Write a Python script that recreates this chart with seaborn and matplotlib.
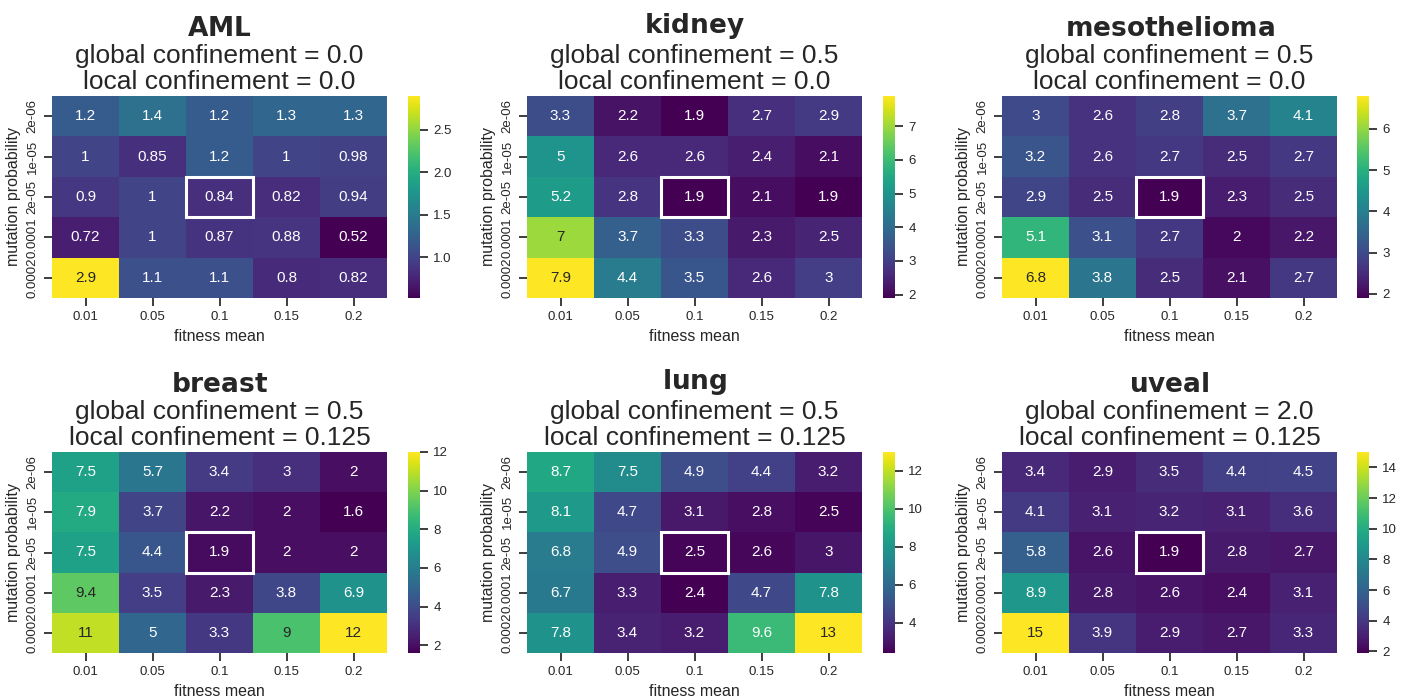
import numpy as np
import pandas as pd
import seaborn as sns
import matplotlib.pyplot as plt
from matplotlib.patches import Rectangle

fitness_mean = ["0.01", "0.05", "0.1", "0.15", "0.2"]
mutation_prob = ["2e-06", "1e-05", "2e-05", "0.0001", "0.0002"]

names = ["AML", "kidney", "mesothelioma", "breast", "lung", "uveal"]
global_conf = ["0.0", "0.5", "0.5", "0.5", "0.5", "2.0"]
local_conf = ["0.0", "0.0", "0.0", "0.125", "0.125", "0.125"]

aml = [[1.2, 1.4, 1.2, 1.3, 1.3],
       [1.0, 0.85, 1.2, 1.0, 0.98],
       [0.9, 1.0, 0.84, 0.82, 0.94],
       [0.72, 1.0, 0.87, 0.88, 0.52],
       [2.9, 1.1, 1.1, 0.8, 0.82]]
kidney = [[3.3, 2.2, 1.9, 2.7, 2.9],
          [5.0, 2.6, 2.6, 2.4, 2.1],
          [5.2, 2.8, 1.9, 2.1, 1.9],
          [7.0, 3.7, 3.3, 2.3, 2.5],
          [7.9, 4.4, 3.5, 2.6, 3.0]]
meso = [[3.0, 2.6, 2.8, 3.7, 4.1],
        [3.2, 2.6, 2.7, 2.5, 2.7],
        [2.9, 2.5, 1.9, 2.3, 2.5],
        [5.1, 3.1, 2.7, 2.0, 2.2],
        [6.8, 3.8, 2.5, 2.1, 2.7]]
breast = [[7.5, 5.7, 3.4, 3.0, 2.0],
          [7.9, 3.7, 2.2, 2.0, 1.6],
          [7.5, 4.4, 1.9, 2.0, 2.0],
          [9.4, 3.5, 2.3, 3.8, 6.9],
          [11, 5.0, 3.3, 9.0, 12]]
lung = [[8.7, 7.5, 4.9, 4.4, 3.2],
        [8.1, 4.7, 3.1, 2.8, 2.5],
        [6.8, 4.9, 2.5, 2.6, 3.0],
        [6.7, 3.3, 2.4, 4.7, 7.8],
        [7.8, 3.4, 3.2, 9.6, 13]]
uveal = [[3.4, 2.9, 3.5, 4.4, 4.5],
         [4.1, 3.1, 3.2, 3.1, 3.6],
         [5.8, 2.6, 1.9, 2.8, 2.7],
         [8.9, 2.8, 2.6, 2.4, 3.1],
         [15, 3.9, 2.9, 2.7, 3.3]]
datasets = [aml, kidney, meso, breast, lung, uveal]

sns.set_theme(style="ticks")
plt.rcParams["font.family"] = ["Liberation Sans", "DejaVu Sans"]

W, H = 1406, 700
fig = plt.figure(figsize=(W / 100, H / 100), dpi=100)

col_x = [52, 527, 1002]
cbar_x = [408, 883, 1357]
hm_w = 335
cb_w = 12
row_y = [(96, 298), (452, 653)]

for i, (name, g, l, d) in enumerate(zip(names, global_conf, local_conf, datasets)):
    r, c = divmod(i, 3)
    top, bot = row_y[r]
    ax = fig.add_axes([col_x[c] / W, (H - bot) / H, hm_w / W, (bot - top) / H])
    cax = fig.add_axes([cbar_x[c] / W, (H - bot) / H, cb_w / W, (bot - top) / H])
    df = pd.DataFrame(d, index=mutation_prob, columns=fitness_mean)
    sns.heatmap(df, ax=ax, cbar_ax=cax, cmap="viridis", annot=True,
                annot_kws={"fontsize": 11})
    ax.add_patch(Rectangle((2, 2), 1, 1, fill=False, edgecolor="white", lw=2.2))
    ax.set_xlabel("fitness mean", fontsize=11.5)
    ax.set_ylabel("mutation probability", fontsize=11.5)
    ax.tick_params(labelsize=9.5)
    plt.setp(ax.get_yticklabels(), rotation=90, va="center")
    ax.set_title(f"$\\bf{{{name}}}$\nglobal confinement = {g}\nlocal confinement = {l}",
                 fontsize=19, linespacing=1.13, pad=5)
    cax.tick_params(labelsize=9.5)

fig.savefig("out.png", dpi=100)
